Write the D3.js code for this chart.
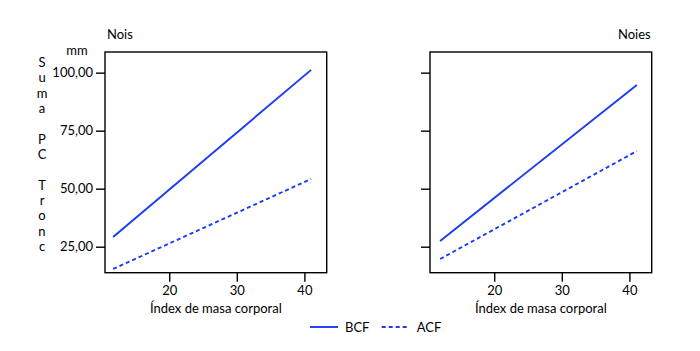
<!DOCTYPE html>
<html>
<head>
<meta charset="utf-8">
<script src="https://cdn.jsdelivr.net/npm/d3@7"></script>
<style>
  body { margin: 0; background: #fff; }
  svg text { font-family: Lato, "Open Sans", sans-serif; fill: #000; }
</style>
</head>
<body>
<svg id="chart"></svg>
<script>
// panels, series and ticks
const panels = ['Nois', 'Noies'];
const series = ['BCF', 'ACF'];
const xTicks = [20, 30, 40];
const yTicks = [25, 50, 75, 100];
const yTitle = 'Suma PC Tronc';

// fitted line endpoints: [bmi, value]
const noisBCF = [[11.7, 29.2], [41.0, 101.2]];
const noisACF = [[11.7, 15.4], [41.0, 54.2]];
const noiesBCF = [[12.0, 27.5], [41.1, 94.7]];
const noiesACF = [[12.0, 19.7], [41.1, 66.2]];

const lines = {
    Nois: { BCF: noisBCF, ACF: noisACF },
    Noies: { BCF: noiesBCF, ACF: noiesACF }
};

const blue = '#1a3af5';
const dash = { BCF: null, ACF: '4,3' };

const svg = d3.select('#chart')
    .attr('width', 700)
    .attr('height', 351);

const panelLeft = [105, 430];
const panelW = 221.7;
const plotTop = 52, plotBottom = 272.7;

const y = d3.scaleLinear()
    .domain([13.8, 108.9])
    .range([plotBottom, plotTop]);

const fmt = d => d3.format('.2f')(d).replace('.', ',');

panels.forEach((name, i) => {
    const x0 = panelLeft[i];
    const x = d3.scaleLinear()
        .domain([10.5, 43.3])
        .range([x0, x0 + panelW]);

    const g = svg.append('g');

    // frame
    g.append('rect')
        .attr('x', x0)
        .attr('y', plotTop)
        .attr('width', panelW)
        .attr('height', plotBottom - plotTop)
        .attr('fill', 'none')
        .attr('stroke', '#000')
        .attr('stroke-width', 1.4);

    const xAxis = d3.axisBottom(x)
        .tickValues(xTicks)
        .tickSize(9)
        .tickPadding(4)
        .tickFormat(d => d);

    const yAxis = d3.axisLeft(y)
        .tickValues(yTicks)
        .tickSize(9)
        .tickPadding(3)
        .tickFormat(i === 0 ? fmt : '');

    g.append('g')
        .attr('transform', `translate(0,${plotBottom})`)
        .call(xAxis)
        .call(a => a.select('.domain').remove())
        .call(a => a.selectAll('line').attr('stroke-width', 1.4))
        .call(a => a.selectAll('text').attr('font-size', 13).attr('font-family', null));

    g.append('g')
        .attr('transform', `translate(${x0},0)`)
        .call(yAxis)
        .call(a => a.select('.domain').remove())
        .call(a => a.selectAll('line').attr('stroke-width', 1.4))
        .call(a => a.selectAll('text').attr('font-size', 13).attr('font-family', null));

    // x title
    g.append('text')
        .attr('x', x0 + panelW / 2)
        .attr('y', 313)
        .attr('text-anchor', 'middle')
        .attr('font-size', 13)
        .text('Índex de masa corporal');

    // panel title
    g.append('text')
        .attr('x', i === 0 ? x0 + 2 : x0 + panelW - 1)
        .attr('y', 39)
        .attr('text-anchor', i === 0 ? 'start' : 'end')
        .attr('font-size', 13)
        .text(name);

    const line = d3.line()
        .x(d => x(d[0]))
        .y(d => y(d[1]));

    series.forEach(s => {
        g.append('path')
            .datum(lines[name][s])
            .attr('d', line)
            .attr('fill', 'none')
            .attr('stroke', blue)
            .attr('stroke-width', 1.9)
            .attr('stroke-dasharray', dash[s]);
    });
});

// unit label
svg.append('text')
    .attr('x', 77)
    .attr('y', 55)
    .attr('text-anchor', 'middle')
    .attr('font-size', 13)
    .text('mm');

// stacked y title
svg.append('g')
    .selectAll('text')
    .data(yTitle.split(''))
    .join('text')
    .attr('x', 42)
    .attr('y', (d, k) => 67 + k * 15.33)
    .attr('text-anchor', 'middle')
    .attr('font-size', 13)
    .text(d => d);

// legend
const legend = svg.append('g');
const legendX = [310, 381.7];
series.forEach((s, k) => {
    legend.append('line')
        .attr('x1', legendX[k])
        .attr('x2', legendX[k] + 28)
        .attr('y1', 327)
        .attr('y2', 327)
        .attr('stroke', blue)
        .attr('stroke-width', 1.9)
        .attr('stroke-dasharray', dash[s]);
    legend.append('text')
        .attr('x', legendX[k] + 35)
        .attr('y', 331.7)
        .attr('font-size', 13)
        .text(s);
});
</script>
</body>
</html>
